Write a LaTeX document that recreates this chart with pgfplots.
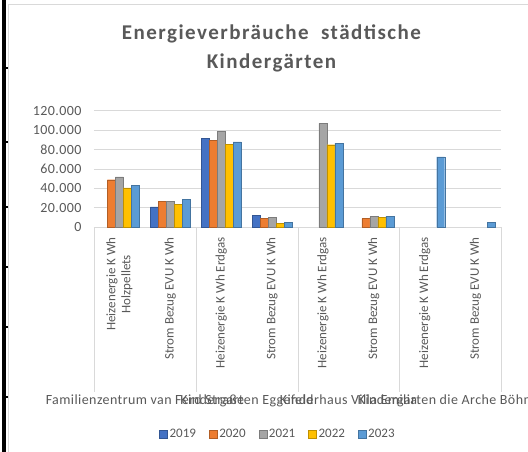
\documentclass[border=0pt]{standalone}
\usepackage{pgfplots}
\pgfplotsset{compat=1.18}
\usepackage{fontspec}
\setmainfont{Carlito}
\newfontfamily\axfont[LetterSpace=3]{Carlito}
\newfontfamily\tifont[LetterSpace=7]{Carlito}
\definecolor{txt}{HTML}{595959}
\definecolor{grd}{HTML}{D9D9D9}
\definecolor{cA}{HTML}{4472C4}
\definecolor{cB}{HTML}{ED7D31}
\definecolor{cC}{HTML}{A5A5A5}
\definecolor{cD}{HTML}{FFC000}
\definecolor{cE}{HTML}{5B9BD5}
\pgfplotstableread{
x y19 y20 y21 y22 y23
0 nan 49000 52000 40500 43500
1 21000 27000 26500 23500 28500
2 91500 89500 98500 85500 88000
3 12500 9000 10500 4000 5000
4 nan nan 107000 85000 86500
5 nan 9000 11000 10500 11500
6 nan nan nan nan 72500
7 nan nan nan nan 5000
}\data
\begin{document}
\begin{tikzpicture}
\useasboundingbox (0,0) rectangle (528pt,452pt);
\fill[white] (0,0) rectangle (528pt,452pt);
\fill[black] (2pt,0pt) rectangle (5.5pt,452pt);
\foreach \yy in {68,142,207,267,327,397} {\fill[black] (5.5pt,{(452-\yy-1)*1pt}) rectangle (8pt,{(452-\yy+1)*1pt});}
\draw[grd] (8pt,-1pt) -- (8pt,448pt) -- (530pt,448pt);
\node[font=\tifont\fontsize{21}{21}\selectfont\bfseries, text=txt, anchor=base] at (271.5pt,412.5pt) {Energieverbräuche\ \ städtische};
\node[font=\tifont\fontsize{21}{21}\selectfont\bfseries, text=txt, anchor=base] at (271.5pt,383.5pt) {Kindergärten};
\foreach \sx in {94,196,298,399,501} {\draw[grd, line width=0.8pt] (\sx pt,224.7pt) -- (\sx pt,60pt);}
\node[font=\axfont\fontsize{14}{14}\selectfont, text=txt, anchor=base] at (145pt,47.5pt) {Familienzentrum van Ferd Straße};
\node[font=\axfont\fontsize{14}{14}\selectfont, text=txt, anchor=base] at (247pt,47.5pt) {Kindergarten Eggefeld};
\node[font=\axfont\fontsize{14}{14}\selectfont, text=txt, anchor=base] at (348.5pt,47.5pt) {Kinderhaus Villa Emilia};
\node[font=\axfont\fontsize{14}{14}\selectfont, text=txt, anchor=base] at (450pt,47.5pt) {Kindergarten die Arche Böhme};
\begin{axis}[
  at={(94pt,224.7pt)}, anchor=south west,
  scale only axis, width=407pt, height=116.6pt,
  xmin=-0.5, xmax=7.5, ymin=0, ymax=120000,
  ybar=0pt, bar width=8pt,
  clip=false,
  axis line style={draw=none},
  major tick length=0pt,
  ymajorgrids, grid style={grd, line width=0.8pt},
  ytick={0,20000,40000,60000,80000,100000,120000},
  scaled y ticks=false,
  /pgf/number format/.cd, fixed, 1000 sep={.}, assume math mode=true,
  /pgfplots/.cd,
  yticklabel style={font=\axfont\fontsize{14}{14}\selectfont, text=txt, anchor=east, inner sep=0pt, xshift=-12.3pt},
  xtick={0,...,7},
  xticklabels={{Heizenergie K Wh\\Holzpellets},{Strom Bezug EVU K Wh},{Heizenergie K Wh Erdgas},{Strom Bezug EVU K Wh},{Heizenergie K Wh Erdgas},{Strom Bezug EVU K Wh},{Heizenergie K Wh Erdgas},{Strom Bezug EVU K Wh}},
  xticklabel style={font=\fontsize{13}{15}\selectfont, text=txt, rotate=90, anchor=east, align=center, inner sep=0pt, xshift=-10pt},
  legend columns=5,
  legend style={at={(0.452,-1.775)}, anchor=center, draw=none, fill=none,
    font=\fontsize{13}{13}\selectfont, text=txt,
    /tikz/every even column/.append style={column sep=11pt}},
  legend image code/.code={\fill[#1] (0pt,-4pt) rectangle (8pt,4pt);},
]
\addplot[fill=cA, draw=cA!75!black, line width=0.3pt] table[x=x,y=y19]{\data};
\addplot[fill=cB, draw=cB!75!black, line width=0.3pt] table[x=x,y=y20]{\data};
\addplot[fill=cC, draw=cC!75!black, line width=0.3pt] table[x=x,y=y21]{\data};
\addplot[fill=cD, draw=cD!75!black, line width=0.3pt] table[x=x,y=y22]{\data};
\addplot[fill=cE, draw=cE!75!black, line width=0.3pt] table[x=x,y=y23]{\data};
\legend{2019,2020,2021,2022,2023}
\end{axis}
\end{tikzpicture}
\end{document}
